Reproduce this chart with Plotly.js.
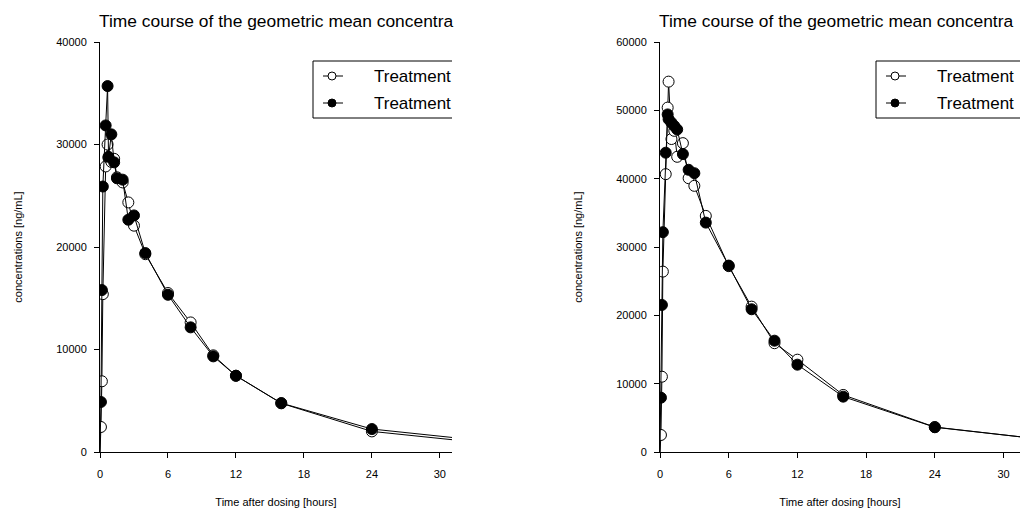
<!DOCTYPE html>
<html>
<head>
<meta charset="utf-8">
<script src="https://cdn.plot.ly/plotly-3.0.1.min.js"></script>
<style>html,body{margin:0;padding:0;background:#fff;}#chart{width:1020px;height:511px;}</style>
</head>
<body>
<div id="chart"></div>
<script>
// ---- data ----
const times = [0, 0.083, 0.167, 0.25, 0.5, 0.67, 0.75, 1, 1.25, 1.5, 2, 2.5, 3, 4, 6, 8, 10, 12, 16, 24, 36];
const leftOpen   = [0, 2440, 6900, 15400, 27860, 30000, 28700, 28300, 28600, 26800, 26300, 24350, 22080, 19300, 15510, 12640, 9430, 7440, 4750, 2010, 635];
const leftFilled = [0, 4880, 15800, 25900, 31860, 35700, 28800, 30990, 28260, 26700, 26570, 22660, 23080, 19410, 15340, 12160, 9330, 7440, 4770, 2240, 848];
const rightOpen   = [0, 2490, 11020, 26400, 40660, 50400, 54200, 45800, 47000, 43200, 45200, 40070, 38950, 34550, 27200, 21270, 15920, 13510, 8350, 3650, 1350];
const rightFilled = [0, 7950, 21520, 32170, 43800, 49400, 48700, 48200, 47700, 47200, 43600, 41300, 40800, 33570, 27280, 20890, 16290, 12780, 8100, 3620, 1380];
const seriesNames = ["Treatment", "Treatment"];
const chartTitle = "Time course of the geometric mean concentra";
const xTitle = "Time after dosing [hours]";
const yTitle = "concentrations [ng/mL]";
const xTicks = [0, 6, 12, 18, 24, 30];
const yTicksLeft = [0, 10000, 20000, 30000, 40000];
const yTicksRight = [0, 10000, 20000, 30000, 40000, 50000, 60000];

// ---- helpers ----
const W = 1020, H = 511;
const px = x => x / W;
const py = y => 1 - y / H;
const FONT = "Arial, 'Liberation Sans', sans-serif";
const sizes = times.map((t, i) => i === 0 ? 0 : 11);

function makeTrace(y, xa, ya, fill) {
  return {x: times, y: y, xaxis: xa, yaxis: ya, mode: 'lines+markers', type: 'scatter',
    line: {color: '#000', width: 1},
    marker: {symbol: 'circle', size: sizes, opacity: 1, color: fill, line: {color: '#000', width: 1}},
    showlegend: false, cliponaxis: true, hoverinfo: 'x+y'};
}

const data = [
  makeTrace(leftOpen, 'x', 'y', '#fff'),
  makeTrace(leftFilled, 'x', 'y', '#000'),
  makeTrace(rightOpen, 'x2', 'y2', '#fff'),
  makeTrace(rightFilled, 'x2', 'y2', '#000')
];

const axisCommon = {
  showline: true, linecolor: '#000', linewidth: 1, showgrid: false, zeroline: false,
  ticks: 'outside', ticklen: 5, tickwidth: 1, tickcolor: '#000',
  tickfont: {family: FONT, size: 11, color: '#000'}, mirror: false
};
const titleFont = {family: FONT, size: 11, color: '#000'};

const yDom = [py(452), py(42)];
const layout = {
  width: W, height: H, margin: {l: 0, r: 0, t: 0, b: 0},
  paper_bgcolor: '#fff', plot_bgcolor: '#fff', showlegend: false,
  xaxis: Object.assign({}, axisCommon, {domain: [px(100), px(452)], range: [0, 31.07], tickvals: xTicks, anchor: 'y',
    ticklabelstandoff: 7, title: {text: xTitle, font: titleFont, standoff: 19}}),
  yaxis: Object.assign({}, axisCommon, {domain: yDom, range: [0, 40000], tickvals: yTicksLeft, tickformat: 'd', anchor: 'x',
    ticklabelstandoff: 5, title: {text: yTitle, font: titleFont, standoff: 31}}),
  xaxis2: Object.assign({}, axisCommon, {domain: [px(660), 1], range: [0, 31.44], tickvals: xTicks, anchor: 'y2',
    ticklabelstandoff: 7, title: {text: xTitle, font: titleFont, standoff: 19}}),
  yaxis2: Object.assign({}, axisCommon, {domain: yDom, range: [0, 60000], tickvals: yTicksRight, tickformat: 'd', anchor: 'x2',
    ticklabelstandoff: 5, title: {text: yTitle, font: titleFont, standoff: 31}}),
  shapes: [],
  annotations: []
};

// titles (cut at the plot edge in the reference)
[97, 657].forEach(x0 => {
  layout.annotations.push({xref: 'paper', yref: 'paper', x: px(x0), y: py(21), xanchor: 'left', yanchor: 'middle',
    text: chartTitle, showarrow: false, font: {family: FONT, size: 17.4, color: '#000'}});
});

// legends (clipped boxes)
function legend(x0, x1) {
  const top = 61, bot = 118;
  const s = layout.shapes;
  const ln = {color: '#000', width: 1};
  s.push({type: 'line', xref: 'paper', yref: 'paper', x0: px(x0), x1: px(x1), y0: py(top), y1: py(top), line: ln});
  s.push({type: 'line', xref: 'paper', yref: 'paper', x0: px(x0), x1: px(x0), y0: py(top), y1: py(bot), line: ln});
  s.push({type: 'line', xref: 'paper', yref: 'paper', x0: px(x0), x1: px(x1), y0: py(bot), y1: py(bot), line: ln});
  [[76, '#fff'], [103, '#000']].forEach(([yy, fill], i) => {
    s.push({type: 'line', xref: 'paper', yref: 'paper', x0: px(x0 + 10), x1: px(x0 + 30), y0: py(yy), y1: py(yy), line: ln});
    s.push({type: 'circle', xref: 'paper', yref: 'paper', x0: px(x0 + 19 - 4), x1: px(x0 + 19 + 4),
      y0: py(yy + 4), y1: py(yy - 4), fillcolor: fill, line: ln});
    layout.annotations.push({xref: 'paper', yref: 'paper', x: px(x0 + 59), y: py(yy), xanchor: 'left', yanchor: 'middle',
      text: seriesNames[i], showarrow: false, font: {family: FONT, size: 17, color: '#000'}});
  });
}
legend(313, 452);
legend(876, 1020);

Plotly.newPlot('chart', data, layout, {staticPlot: true, displayModeBar: false});
</script>
</body>
</html>
